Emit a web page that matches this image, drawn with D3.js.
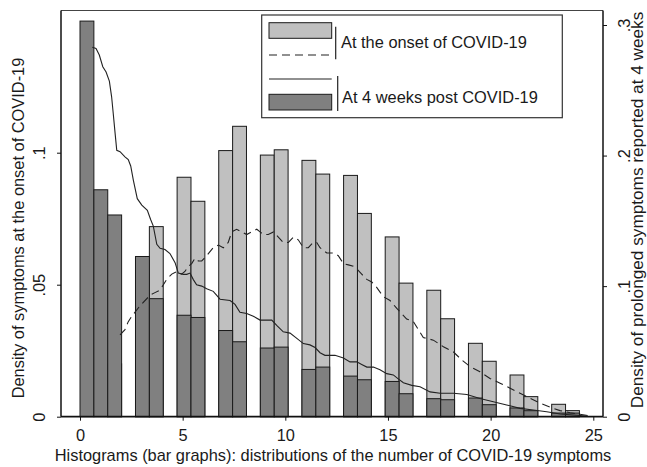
<!DOCTYPE html>
<html>
<head>
<meta charset="utf-8">
<script src="https://cdn.jsdelivr.net/npm/d3@7/dist/d3.min.js"></script>
<style>
  body { margin: 0; background: #fff; }
  text { font-family: "Liberation Sans", Arial, sans-serif; fill: #1a1a1a; }
</style>
</head>
<body>
<svg id="chart" width="647" height="467"></svg>
<script>
// number of symptoms (one histogram bar per count)
var symptomCounts = [0, 1, 2, 3, 4, 5, 6, 7, 8, 9, 10, 11, 12, 13, 14, 15, 16, 17, 18, 19, 20, 21, 22, 23, 24];

// histogram densities, onset on the left axis, 4 weeks on the right axis
var onsetDensity = [0, 0, 0.02, 0.060, 0.072, 0.0907, 0.0816, 0.1008, 0.110, 0.0991, 0.1011, 0.0971, 0.0919,
  0.0914, 0.077, 0.0681, 0.0506, 0.0479, 0.0371, 0.0278, 0.021, 0.0158, 0.0076, 0.0047, 0.0023];
var weeks4Density = [0.303, 0.1738, 0.1545, 0.1227, 0.0904, 0.0777, 0.076, 0.066, 0.0574, 0.0526, 0.0533,
  0.0362, 0.038, 0.0311, 0.0283, 0.027, 0.0176, 0.0138, 0.013, 0.0143, 0.0092, 0.0067, 0.0046, 0.0028, 0.0028];

// kernel density curves [symptoms, density]
var onsetCurve = [[1.95, 0.031], [2.19, 0.033], [2.35, 0.036], [2.52, 0.038], [2.92, 0.042], [3.41, 0.046],
  [3.65, 0.047], [3.90, 0.048], [4.22, 0.052], [4.47, 0.054], [4.71, 0.055], [4.95, 0.054], [5.11, 0.055],
  [5.28, 0.057], [5.44, 0.058], [5.60, 0.060], [5.76, 0.059], [5.93, 0.059], [6.17, 0.061], [6.49, 0.064],
  [6.74, 0.065], [6.98, 0.064], [7.22, 0.066], [7.39, 0.070], [7.63, 0.071], [7.88, 0.070], [8.12, 0.069],
  [8.36, 0.070], [8.61, 0.071], [8.77, 0.070], [8.93, 0.069], [9.17, 0.069], [9.42, 0.070], [9.66, 0.068],
  [9.90, 0.066], [10.15, 0.066], [10.39, 0.068], [10.63, 0.067], [10.88, 0.064], [11.12, 0.064], [11.36, 0.066],
  [11.53, 0.066], [11.69, 0.064], [12.02, 0.062], [12.34, 0.062], [12.58, 0.061], [12.83, 0.058], [13.07, 0.0575],
  [13.31, 0.057], [13.48, 0.056], [13.72, 0.054], [13.97, 0.052], [14.21, 0.051], [14.45, 0.049], [14.77, 0.0455],
  [15.10, 0.044], [15.43, 0.041], [15.67, 0.039], [15.91, 0.037], [16.24, 0.036], [16.72, 0.030], [17.21, 0.029],
  [17.70, 0.0265], [18.18, 0.0246], [18.59, 0.0215], [19.00, 0.019], [19.48, 0.017], [19.97, 0.0145],
  [20.46, 0.0127], [20.95, 0.0108], [21.43, 0.0089], [21.92, 0.007], [22.41, 0.0051], [22.89, 0.0036],
  [23.38, 0.0023], [23.87, 0.0015], [24.35, 0.0009], [24.76, 0.0004]];
var weeks4Curve = [[0.60, 0.283], [0.78, 0.282], [0.94, 0.277], [1.11, 0.268], [1.27, 0.264], [1.43, 0.257],
  [1.54, 0.245], [1.62, 0.232], [1.71, 0.217], [1.79, 0.204], [1.95, 0.203], [2.19, 0.199], [2.35, 0.197],
  [2.47, 0.192], [2.60, 0.181], [2.79, 0.167], [3.01, 0.162], [3.28, 0.158], [3.44, 0.151], [3.57, 0.146],
  [3.74, 0.132], [3.90, 0.129], [4.14, 0.128], [4.38, 0.125], [4.63, 0.118], [4.79, 0.110], [5.03, 0.109],
  [5.20, 0.109], [5.36, 0.110], [5.52, 0.105], [5.68, 0.101], [5.93, 0.100], [6.17, 0.098], [6.49, 0.096],
  [6.66, 0.093], [6.82, 0.090], [7.31, 0.089], [7.55, 0.086], [7.79, 0.080], [8.12, 0.079], [8.44, 0.077],
  [8.77, 0.074], [9.09, 0.074], [9.34, 0.074], [9.58, 0.070], [9.90, 0.065], [10.23, 0.064], [10.56, 0.060],
  [10.88, 0.056], [11.20, 0.055], [11.45, 0.053], [11.69, 0.049], [11.93, 0.047], [12.42, 0.047], [12.83, 0.045],
  [13.15, 0.042], [13.48, 0.042], [13.72, 0.040], [13.97, 0.038], [14.29, 0.038], [14.61, 0.036], [14.94, 0.033],
  [15.26, 0.032], [15.50, 0.029], [15.75, 0.026], [16.16, 0.024], [16.56, 0.023], [17.05, 0.019], [17.54, 0.018],
  [18.18, 0.018], [18.84, 0.017], [19.48, 0.014], [20.13, 0.0115], [20.78, 0.009], [21.43, 0.0064],
  [22.08, 0.0051], [22.73, 0.0038], [23.38, 0.0021], [24.03, 0.0013], [24.68, 0.0005]];

// ticks
var xTicks = [0, 5, 10, 15, 20, 25];
var yLeftTicks = [0, 0.05, 0.1];
var yLeftLabels = ['0', '.05', '.1'];
var yRightTicks = [0, 0.1, 0.2, 0.3];
var yRightLabels = ['0', '.1', '.2', '.3'];

var legendLabels = ['At the onset of COVID-19', 'At 4 weeks post COVID-19'];

var LIGHT = '#c0c0c0';
var DARK = '#808080';
var EDGE = '#1a1a1a';

var svg = d3.select('#chart');
var frame = { left: 61, right: 603, top: 10.5, bottom: 416.7 };

var x = d3.scaleLinear().domain([0, 25]).range([80, 593.3]);
var yLeft = d3.scaleLinear().domain([0, 0.1]).range([frame.bottom, 152.7]);
var yRight = d3.scaleLinear().domain([0, 0.3]).range([frame.bottom, 25]);

// 37 equal bins over 0-25, as in the original histogram
var nBins = 37;
var binWidth = 25 / nBins;
function binStart(k) {
  return Math.floor(k * nBins / 25 + 1e-9) * binWidth;
}

// frame (top line)
svg.append('line')
  .attr('x1', frame.left).attr('x2', frame.right)
  .attr('y1', frame.top).attr('y2', frame.top)
  .attr('stroke', '#444').attr('stroke-width', 1);

// bars: onset first, 4 weeks drawn over it
svg.append('g').selectAll('rect')
  .data(symptomCounts.filter(function(k) { return onsetDensity[k] > 0; }))
  .enter().append('rect')
  .attr('x', function(k) { return x(binStart(k)); })
  .attr('width', function(k) { return x(binStart(k) + binWidth) - x(binStart(k)); })
  .attr('y', function(k) { return yLeft(onsetDensity[k]); })
  .attr('height', function(k) { return frame.bottom - yLeft(onsetDensity[k]); })
  .attr('fill', LIGHT).attr('stroke', EDGE).attr('stroke-width', 1);

svg.append('g').selectAll('rect')
  .data(symptomCounts)
  .enter().append('rect')
  .attr('x', function(k) { return x(binStart(k)); })
  .attr('width', function(k) { return x(binStart(k) + binWidth) - x(binStart(k)); })
  .attr('y', function(k) { return yRight(weeks4Density[k]); })
  .attr('height', function(k) { return frame.bottom - yRight(weeks4Density[k]); })
  .attr('fill', DARK).attr('stroke', EDGE).attr('stroke-width', 1);

// density curves
svg.append('path')
  .datum(onsetCurve)
  .attr('d', d3.line().x(function(d) { return x(d[0]); }).y(function(d) { return yLeft(d[1]); }))
  .attr('fill', 'none').attr('stroke', '#222').attr('stroke-width', 1.1)
  .attr('stroke-dasharray', '8,5');

svg.append('path')
  .datum(weeks4Curve)
  .attr('d', d3.line().x(function(d) { return x(d[0]); }).y(function(d) { return yRight(d[1]); }))
  .attr('fill', 'none').attr('stroke', '#222').attr('stroke-width', 1.1);

// axes
var fontSize = '16.4px';

var xAxis = svg.append('g')
  .attr('transform', 'translate(0,' + frame.bottom + ')')
  .call(d3.axisBottom(x).tickValues(xTicks).tickSize(4).tickSizeOuter(0).tickPadding(9));
xAxis.select('.domain').remove();
xAxis.selectAll('.tick line').attr('stroke', '#111');
xAxis.selectAll('text').style('font-size', fontSize).attr('fill', '#1a1a1a');

var leftAxis = svg.append('g')
  .attr('transform', 'translate(' + frame.left + ',0)')
  .call(d3.axisLeft(yLeft).tickValues(yLeftTicks).tickSize(4)
    .tickFormat(function(d, i) { return yLeftLabels[i]; }));
leftAxis.select('.domain').remove();
leftAxis.selectAll('.tick line').attr('stroke', '#111');
leftAxis.selectAll('text')
  .attr('x', 0).attr('y', -16).attr('dy', null)
  .attr('text-anchor', 'middle').attr('transform', 'rotate(-90)')
  .style('font-size', fontSize).attr('fill', '#1a1a1a');

var rightAxis = svg.append('g')
  .attr('transform', 'translate(' + frame.right + ',0)')
  .call(d3.axisRight(yRight).tickValues(yRightTicks).tickSize(4)
    .tickFormat(function(d, i) { return yRightLabels[i]; }));
rightAxis.select('.domain').remove();
rightAxis.selectAll('.tick line').attr('stroke', '#111');
rightAxis.selectAll('text')
  .attr('x', 0).attr('y', 27).attr('dy', null)
  .attr('text-anchor', 'middle').attr('transform', 'rotate(-90)')
  .style('font-size', fontSize).attr('fill', '#1a1a1a');

// axis lines
svg.append('line').attr('x1', frame.left).attr('x2', frame.left)
  .attr('y1', frame.top).attr('y2', frame.bottom).attr('stroke', '#111').attr('stroke-width', 1.5);
svg.append('line').attr('x1', frame.right).attr('x2', frame.right)
  .attr('y1', frame.top).attr('y2', frame.bottom).attr('stroke', '#111').attr('stroke-width', 1.5);
svg.append('line').attr('x1', frame.left).attr('x2', frame.right)
  .attr('y1', frame.bottom).attr('y2', frame.bottom).attr('stroke', '#111').attr('stroke-width', 1.8);

// axis titles
svg.append('text')
  .attr('transform', 'translate(24,228) rotate(-90)')
  .attr('text-anchor', 'middle').style('font-size', fontSize)
  .text('Density of symptoms at the onset of COVID-19');

svg.append('text')
  .attr('transform', 'translate(642.5,210) rotate(-90)')
  .attr('text-anchor', 'middle').style('font-size', '17.2px')
  .text('Density of prolonged symptoms reported at 4 weeks');

svg.append('text')
  .attr('x', 333).attr('y', 461)
  .attr('text-anchor', 'middle').style('font-size', fontSize)
  .text('Histograms (bar graphs): distributions of the number of COVID-19 symptoms');

// legend
var legend = svg.append('g');
legend.append('rect')
  .attr('x', 261.7).attr('y', 15).attr('width', 300.6).attr('height', 102.7)
  .attr('fill', '#fff').attr('stroke', '#333').attr('stroke-width', 1.2);

// entry 1: light bar + dashed line
legend.append('rect').attr('x', 269).attr('y', 22.7).attr('width', 62.7).attr('height', 15.6)
  .attr('fill', LIGHT).attr('stroke', EDGE).attr('stroke-width', 1);
legend.append('line').attr('x1', 269).attr('x2', 331.7).attr('y1', 55).attr('y2', 55)
  .attr('stroke', '#222').attr('stroke-width', 1.1).attr('stroke-dasharray', '8,5');
legend.append('line').attr('x1', 335.7).attr('x2', 335.7).attr('y1', 26.7).attr('y2', 59.3)
  .attr('stroke', '#222').attr('stroke-width', 1.2);
legend.append('text').attr('x', 341).attr('y', 47.5).style('font-size', fontSize).text(legendLabels[0]);

// entry 2: solid line + dark bar
legend.append('line').attr('x1', 269).attr('x2', 331.7).attr('y1', 79).attr('y2', 79)
  .attr('stroke', '#222').attr('stroke-width', 1.1);
legend.append('rect').attr('x', 269).attr('y', 94.3).attr('width', 62.7).attr('height', 15.7)
  .attr('fill', DARK).attr('stroke', EDGE).attr('stroke-width', 1);
legend.append('line').attr('x1', 337.7).attr('x2', 337.7).attr('y1', 76).attr('y2', 111)
  .attr('stroke', '#222').attr('stroke-width', 1.2);
legend.append('text').attr('x', 342).attr('y', 103).style('font-size', fontSize).text(legendLabels[1]);
</script>
</body>
</html>
